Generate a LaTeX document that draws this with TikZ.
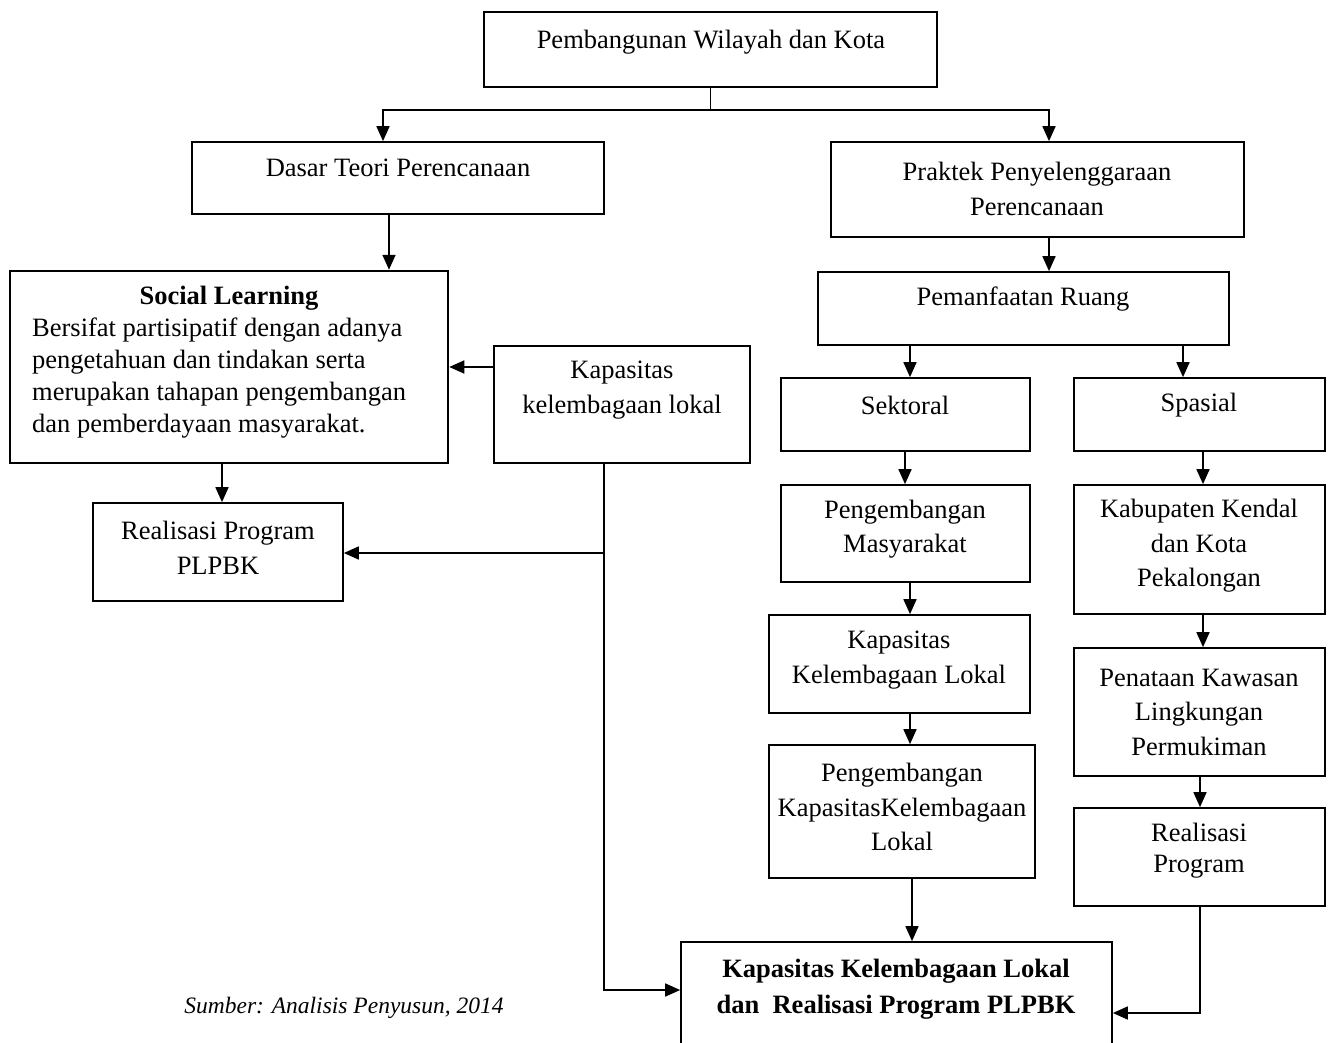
\documentclass[tikz,border=0pt]{standalone}
\usepackage{fontspec}
\setmainfont{Liberation Serif}
\usetikzlibrary{arrows.meta}
\tikzset{
  box/.style={draw, line width=1.7pt, inner sep=0pt},
  lbl/.style={font=\fontsize{26.5}{34.5}\selectfont, align=center, inner sep=0pt},
  ln/.style={line width=1.7pt},
  arr/.style={line width=1.7pt, -{Triangle[length=15pt,width=13pt]}},
}
\newcommand{\bx}[5]{\node[box, minimum width={(#4-#2)*1pt}, minimum height={(#5-#3)*1pt}] (#1) at ({(#2+#4)/2},{(#3+#5)/2}) {};}
\begin{document}
\begin{tikzpicture}[x=1pt,y=-1pt]
\useasboundingbox (0,0) rectangle (1333,1043);
\clip (0,0) rectangle (1333,1043);
% boxes
\bx{top}{484}{12}{937}{87}
\bx{dasar}{192}{142}{604}{214}
\bx{praktek}{831}{142}{1244}{237}
\node[box, line width=2.5pt, minimum width=438pt, minimum height=192pt] (social) at (229,367) {};
\bx{kap}{494}{346}{750}{463}
\bx{realA}{93}{503}{343}{601}
\bx{pemanf}{818}{272}{1229}{345}
\bx{sektoral}{781}{378}{1030}{451}
\bx{spasial}{1074}{378}{1325}{451}
\bx{pengmas}{781}{485}{1030}{582}
\bx{kapkl}{769}{615}{1030}{713}
\bx{pengkap}{769}{745}{1035}{878}
\bx{final}{681}{942}{1112}{1070}
\bx{kab}{1074}{485}{1325}{614}
\bx{penataan}{1074}{648}{1325}{776}
\bx{realB}{1074}{808}{1325}{906}
% texts
\node[lbl] (ttop) at (711,42) {Pembangunan Wilayah dan Kota};
\node[lbl] (tdasar) at (398,168) {Dasar Teori Perencanaan};
\node[lbl] (tpraktek) at (1037,189) {Praktek Penyelenggaraan\\Perencanaan};
\node[lbl, font=\fontsize{26.5}{32}\selectfont\bfseries] (tsocial) at (229,298) {Social Learning};
\node[lbl, font=\fontsize{26.5}{32}\selectfont, align=left, anchor=west] (tsocialb) at (32,378) {Bersifat partisipatif dengan adanya\\pengetahuan dan tindakan serta\\merupakan tahapan pengembangan\\dan pemberdayaan masyarakat.};
\node[lbl] (tkap) at (622,390) {Kapasitas\\kelembagaan lokal};
\node[lbl] (trealA) at (218,548) {Realisasi Program\\PLPBK};
\node[lbl] (tpemanf) at (1023,299) {Pemanfaatan Ruang};
\node[lbl] (tsektoral) at (905,405) {Sektoral};
\node[lbl] (tspasial) at (1199,405) {Spasial};
\node[lbl] (tpengmas) at (905,529) {Pengembangan\\Masyarakat};
\node[lbl] (tkapkl) at (899,660) {Kapasitas\\Kelembagaan Lokal};
\node[lbl] (tpengkap) at (902,807) {Pengembangan\\KapasitasKelembagaan\\Lokal};
\node[lbl, font=\fontsize{26.5}{36}\selectfont\bfseries] (tfinal) at (896,989) {Kapasitas Kelembagaan Lokal\\dan\ \ Realisasi Program PLPBK};
\node[lbl] (tkab) at (1199,546) {Kabupaten Kendal\\dan Kota\\Pekalongan};
\node[lbl] (tpenataan) at (1199,712) {Penataan Kawasan\\Lingkungan\\Permukiman};
\node[lbl, font=\fontsize{26.5}{31}\selectfont] (trealB) at (1199,851) {Realisasi\\Program};
\node[lbl, font=\fontsize{23.5}{28}\selectfont\itshape] (caption) at (344,1008) {Sumber: Analisis Penyusun, 2014};
% connectors
\draw[ln] (top.south) -- (top.south |- 0,110) coordinate (j1);
\draw[arr] (j1) -| (dasar.north -| 383,0);
\draw[arr] (j1) -| (praktek.north -| 1049,0);
\draw[arr] (dasar.south -| 389,0) -- (social.north -| 389,0);
\draw[arr] (kap.west |- 0,367) -- (social.east |- 0,367);
\draw[arr] (social.south -| 222,0) -- (realA.north -| 222,0);
\draw[ln] (kap.south -| 604,0) -- (604,553) coordinate (j2);
\draw[arr] (j2) -- (realA.east |- j2);
\draw[arr] (j2) |- (final.west |- 0,990);
\draw[arr] (praktek.south -| 1049,0) -- (pemanf.north -| 1049,0);
\draw[arr] (pemanf.south -| 910,0) -- (sektoral.north -| 910,0);
\draw[arr] (pemanf.south -| 1183,0) -- (spasial.north -| 1183,0);
\draw[arr] (sektoral.south -| 905,0) -- (pengmas.north -| 905,0);
\draw[arr] (pengmas.south -| 910,0) -- (kapkl.north -| 910,0);
\draw[arr] (kapkl.south -| 910,0) -- (pengkap.north -| 910,0);
\draw[arr] (pengkap.south -| 912,0) -- (final.north -| 912,0);
\draw[arr] (spasial.south -| 1203,0) -- (kab.north -| 1203,0);
\draw[arr] (kab.south -| 1203,0) -- (penataan.north -| 1203,0);
\draw[arr] (penataan.south -| 1200,0) -- (realB.north -| 1200,0);
\draw[arr] (realB.south -| 1200,0) |- (final.east |- 0,1013);
\end{tikzpicture}
\end{document}
